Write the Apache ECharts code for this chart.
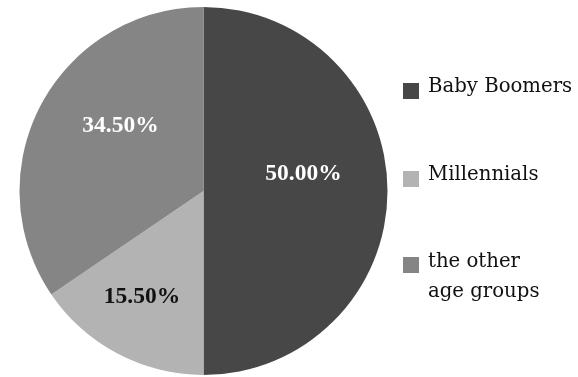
<!DOCTYPE html>
<html>
<head>
<meta charset="utf-8">
<script src="https://cdn.jsdelivr.net/npm/echarts@6/dist/echarts.min.js"></script>
<style>html,body{margin:0;padding:0;background:#fff}#c{width:578px;height:377px}</style>
</head>
<body>
<div id="c"></div>
<script>
var categories = ['Baby Boomers', 'Millennials', 'the other age groups'];
var legendLines = [['Baby Boomers'], ['Millennials'], ['the other', 'age groups']];
var values = [50.0, 15.5, 34.5];
var colors = ['#474747', '#b3b3b3', '#858585'];
var labelColors = ['#ffffff', '#111111', '#ffffff'];
var labelShift = [[5, -17], [-17, 22], [1, -21]];
var legendTops = [77, 165, 229.5];

var chart = echarts.init(document.getElementById('c'), null, {renderer: 'canvas'});
var legends = categories.map(function (name, i) {
  var lines = legendLines[i];
  var txt;
  if (lines.length === 1) {
    txt = '{t|' + lines[0] + '}\n{s| }';
  } else {
    txt = '{h| }\n' + lines.map(function (l) { return '{t|' + l + '}'; }).join('\n') + '\n{g| }';
  }
  return {
    orient: 'vertical',
    left: 403,
    top: legendTops[i],
    padding: 0,
    itemWidth: 16,
    itemHeight: 16,
    itemGap: 0,
    icon: 'rect',
    selectedMode: false,
    data: [name],
    formatter: function () { return txt; },
    textStyle: {
      fontFamily: 'DejaVu Serif',
      fontSize: 19.7,
      color: '#111',
      rich: {
        t: {fontFamily: 'DejaVu Serif', fontSize: 19.7, color: '#111', lineHeight: 30, padding: [0, 0, 0, 4]},
        s: {fontSize: 4, lineHeight: 8},
        h: {fontSize: 4, lineHeight: 30},
        g: {fontSize: 4, lineHeight: 7}
      }
    }
  };
});

chart.setOption({
  animation: false,
  legend: legends,
  series: [{
    type: 'pie',
    center: [203.5, 191],
    radius: [0, 184],
    startAngle: 90,
    clockwise: true,
    avoidLabelOverlap: false,
    labelLine: {show: false},
    itemStyle: {borderWidth: 0},
    emphasis: {disabled: true},
    label: {
      show: true,
      position: 'inside',
      fontFamily: 'Liberation Serif',
      fontWeight: 'bold',
      fontSize: 23.5,
      formatter: function (p) { return p.value.toFixed(2) + '%'; }
    },
    labelLayout: function (p) {
      return {dx: labelShift[p.dataIndex][0], dy: labelShift[p.dataIndex][1]};
    },
    data: categories.map(function (c, i) {
      return {
        name: c,
        value: values[i],
        itemStyle: {color: colors[i]},
        label: {color: labelColors[i]}
      };
    })
  }]
});
</script>
</body>
</html>
